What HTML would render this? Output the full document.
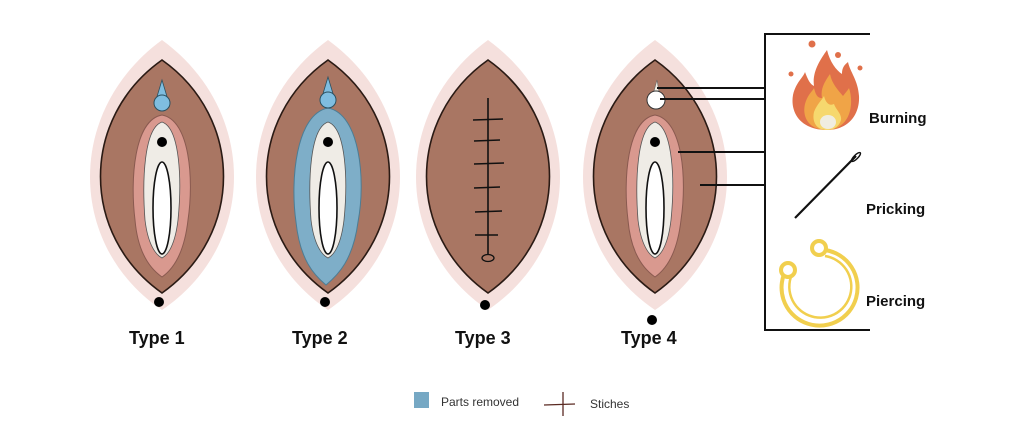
<!DOCTYPE html>
<html><head><meta charset="utf-8"><style>
html,body{margin:0;padding:0;background:#fff;}
svg{display:block;}
text{font-family:"Liberation Sans",Arial,sans-serif;}
</style></head><body>
<svg width="1024" height="430" viewBox="0 0 1024 430" xmlns="http://www.w3.org/2000/svg">
<defs>
<g id="base">
  <path d="M0,-120 C96,-50 96,85 0,150 C-96,85 -96,-50 0,-120Z" fill="#f5e0dd"/>
  <path d="M0,-100 C82,-42 82,75 0,133 C-82,75 -82,-42 0,-100Z" fill="#a97663" stroke="#2a1a14" stroke-width="1.6"/>
</g>
<g id="inner">
  <path d="M0,-45 C28,-40 32,20 26,60 C22,95 10,110 0,117 C-10,110 -24,95 -27,60 C-32,20 -28,-40 0,-45Z" fill="#d9998f" stroke="#8a5a50" stroke-width="1"/>
  <path d="M0,-38 C18,-32 20,20 16,60 C13,85 6,95 0,98 C-6,95 -14,85 -17,60 C-20,20 -18,-32 0,-38Z" fill="#efece6" stroke="#555" stroke-width="0.8"/>
  <ellipse cx="0" cy="48" rx="9" ry="46" fill="#fff" stroke="#111" stroke-width="1.6"/>
  <circle cx="0" cy="-18" r="5" fill="#000"/>
</g>
</defs>

<!-- Type 1 -->
<g transform="translate(162,160)">
  <use href="#base"/>
  <use href="#inner"/>
  <path d="M0,-80 L-6,-60 L6,-60Z" fill="#7fbde0" stroke="#2b5060" stroke-width="0.8"/>
  <circle cx="0" cy="-57" r="8" fill="#7fbde0" stroke="#2b5060" stroke-width="1"/>
  <circle cx="-3" cy="142" r="5" fill="#000"/>
</g>

<!-- Type 2 -->
<g transform="translate(328,160)">
  <use href="#base"/>
  <path d="M0,-52 C32,-46 38,20 30,62 C25,100 10,115 -2,125 C-14,115 -28,100 -32,62 C-38,20 -32,-46 0,-52Z" fill="#7eaec8" stroke="#4c7d95" stroke-width="1"/>
  <path d="M0,-38 C18,-32 20,20 16,60 C13,85 6,95 0,98 C-6,95 -14,85 -17,60 C-20,20 -18,-32 0,-38Z" fill="#efece6" stroke="#555" stroke-width="0.8"/>
  <ellipse cx="0" cy="48" rx="9" ry="46" fill="#fff" stroke="#111" stroke-width="1.6"/>
  <circle cx="0" cy="-18" r="5" fill="#000"/>
  <path d="M0,-83 L-6,-63 L6,-63Z" fill="#7fbde0" stroke="#2b5060" stroke-width="0.8"/>
  <circle cx="0" cy="-60" r="8" fill="#7fbde0" stroke="#2b5060" stroke-width="1"/>
  <circle cx="-3" cy="142" r="5" fill="#000"/>
</g>

<!-- Type 3 -->
<g transform="translate(488,160)">
  <use href="#base"/>
  <line x1="0" y1="-62" x2="0" y2="95" stroke="#111" stroke-width="1.6"/>
  <g stroke="#111" stroke-width="1.4">
    <line x1="-15" y1="-40" x2="15" y2="-41"/>
    <line x1="-14" y1="-19" x2="12" y2="-20"/>
    <line x1="-14" y1="4" x2="16" y2="3"/>
    <line x1="-14" y1="28" x2="12" y2="27"/>
    <line x1="-13" y1="52" x2="14" y2="51"/>
    <line x1="-13" y1="75" x2="10" y2="75"/>
  </g>
  <ellipse cx="0" cy="98" rx="6" ry="3.5" fill="#a97663" stroke="#111" stroke-width="1.3"/>
  <circle cx="-3" cy="145" r="5" fill="#000"/>
</g>

<!-- Type 4 -->
<g transform="translate(655,160)">
  <use href="#base"/>
  <use href="#inner"/>
  <path d="M2,-80 L-3,-62 L5,-62Z" fill="#f4efe4" stroke="#666" stroke-width="0.6"/>
  <circle cx="1" cy="-60" r="9" fill="#fff" stroke="#333" stroke-width="1"/>
  <circle cx="-3" cy="160" r="5" fill="#000"/>
</g>

<!-- connectors -->
<g stroke="#111" stroke-width="2" fill="none">
  <polyline points="870,34 765,34 765,330 870,330"/>
  <line x1="657" y1="88" x2="765" y2="88"/>
  <line x1="660" y1="99" x2="765" y2="99"/>
  <line x1="678" y1="152" x2="765" y2="152"/>
  <line x1="700" y1="185" x2="765" y2="185"/>
</g>

<!-- Fire -->
<g>
  <path d="M827,130 C800,130 790,112 793,95 C796,82 803,78 805,72 C808,80 810,84 814,86 C812,72 820,60 827,50 C830,62 836,70 842,74 C842,66 846,64 848,62 C850,72 858,80 859,96 C860,115 848,130 827,130Z" fill="#e0704a"/>
  <path d="M827,130 C808,130 802,116 805,104 C808,94 812,92 814,88 C816,96 818,98 822,98 C820,88 826,80 830,74 C832,84 838,90 843,96 C846,92 848,90 849,88 C853,100 852,118 840,126 C836,129 831,130 827,130Z" fill="#f0a447"/>
  <path d="M827,130 C815,130 812,120 814,112 C817,104 822,100 824,96 C826,104 830,106 834,104 C836,110 842,114 841,120 C839,127 833,130 827,130Z" fill="#f6d86e"/>
  <ellipse cx="828" cy="122" rx="8" ry="7" fill="#f0ede0"/>
  <circle cx="812" cy="44" r="3.5" fill="#e0704a"/>
  <circle cx="838" cy="55" r="3" fill="#e0704a"/>
  <circle cx="791" cy="74" r="2.5" fill="#e0704a"/>
  <circle cx="860" cy="68" r="2.5" fill="#e0704a"/>
</g>
<!-- Needle -->
<g>
  <line x1="795" y1="218" x2="856" y2="156" stroke="#111" stroke-width="2.2"/>
  <ellipse cx="856" cy="157" rx="2" ry="6" transform="rotate(45 856 157)" fill="none" stroke="#111" stroke-width="1.4"/>
</g>
<!-- Ring -->
<g fill="none" stroke="#f1cf4e" stroke-width="4">
  <path d="M825,250 A38,38 0 1 1 787,268"/>
  <path d="M825,256 A31,31 0 1 1 793,272" stroke-width="2.5"/>
  <circle cx="819" cy="248" r="7" fill="#fff"/>
  <circle cx="788" cy="270" r="7" fill="#fff"/>
</g>

<g font-weight="bold" font-size="15" fill="#111">
  <text x="869" y="123">Burning</text>
  <text x="866" y="214">Pricking</text>
  <text x="866" y="306">Piercing</text>
</g>
<g font-weight="bold" font-size="18" fill="#111">
  <text x="129" y="344">Type 1</text>
  <text x="292" y="344">Type 2</text>
  <text x="455" y="344">Type 3</text>
  <text x="621" y="344">Type 4</text>
</g>

<!-- legend -->
<rect x="414" y="392" width="15" height="16" fill="#76a8c4"/>
<text x="441" y="406" font-size="12" fill="#333">Parts removed</text>
<line x1="544" y1="405" x2="575" y2="404" stroke="#5a2a22" stroke-width="1.3"/>
<line x1="563" y1="392" x2="563" y2="416" stroke="#5a2a22" stroke-width="1.3"/>
<text x="590" y="408" font-size="12" fill="#333">Stiches</text>
</svg>
</body></html>
